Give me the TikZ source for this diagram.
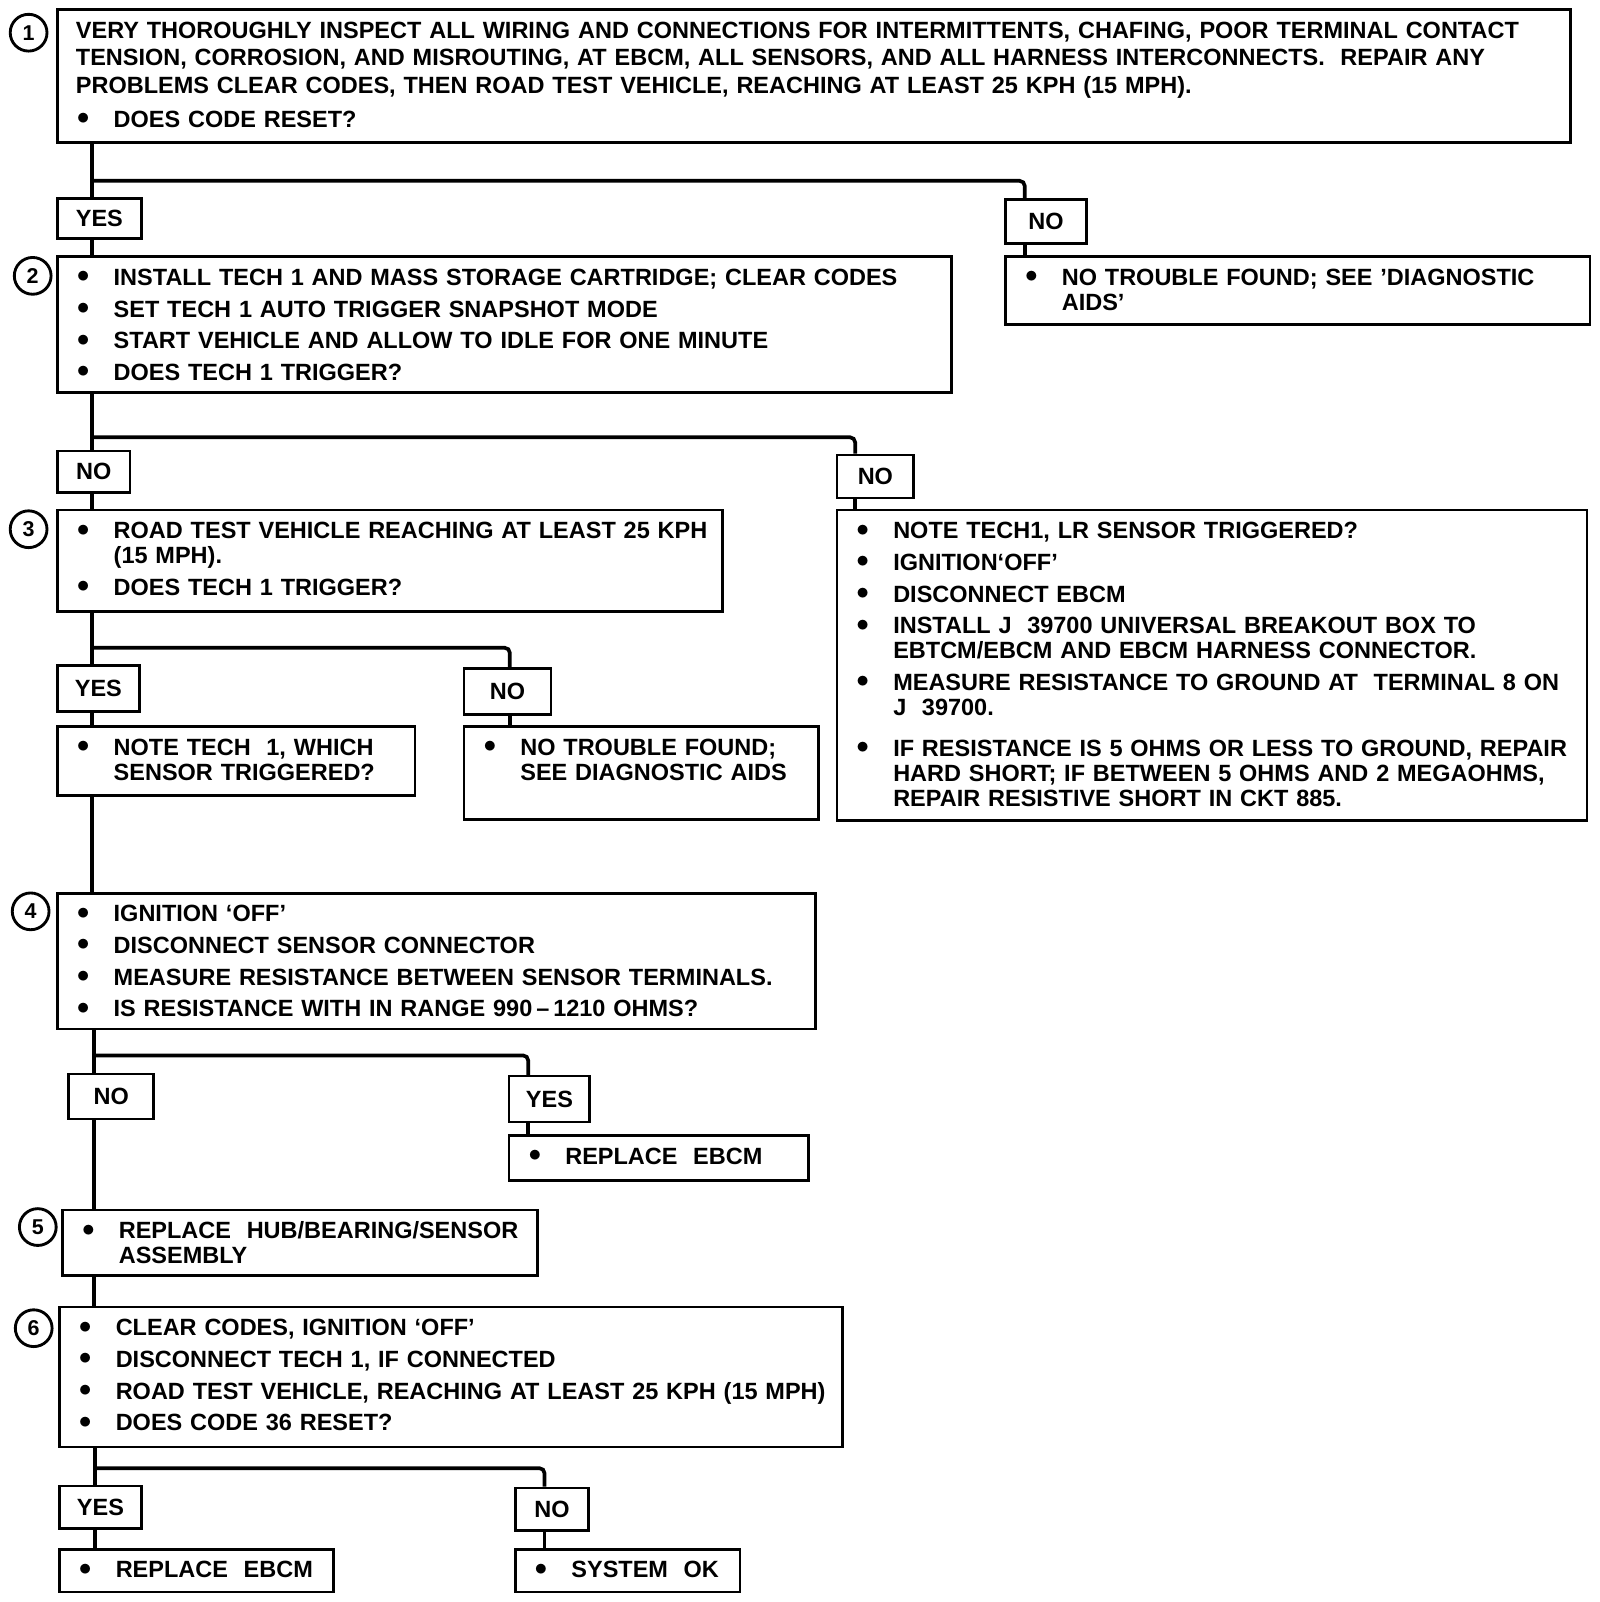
\documentclass[tikz,border=0pt]{standalone}
\usepackage{fontspec}
\setmainfont{Liberation Sans}
\newcommand{\bul}{\hangindent=37pt\hangafter=1\makebox[37pt][l]{\hspace{1pt}\raisebox{2.5pt}{$\bullet$}}}

\begin{document}
\begin{tikzpicture}[x=1pt, y=-1pt, every node/.style={font=\fontsize{23}{24.5}\selectfont\bfseries}]
    % Define styles
    \tikzstyle{stepbox} = [draw, line width=2.6pt, anchor=north west, inner sep=0pt, text height=28pt, align=left, execute at begin node={\leftskip=18pt\parskip=6.5pt}]
    \tikzstyle{answer} = [draw, line width=2.6pt, fill=white, anchor=north west, inner sep=0pt]
    \tikzstyle{stepnum} = [circle, draw, line width=2.8pt, inner sep=0pt, minimum size=36pt, font=\fontsize{21}{21}\selectfont\bfseries]
    \tikzstyle{conn} = [line width=3.6pt, rounded corners=5pt]

    \useasboundingbox (0,0) rectangle (1566,1568);

    % Step numbers
    \node[stepnum] (n1) at (28,32) {1};
    \node[stepnum] (n2) at (32,270) {2};
    \node[stepnum] (n3) at (28,518) {3};
    \node[stepnum] (n4) at (30,892) {4};
    \node[stepnum] (n5) at (37,1201) {5};
    \node[stepnum] (n6) at (33,1300) {6};

    % Step boxes
    \node[stepbox, text width=1481pt, text depth=102pt] (b1) at (55,8) {\baselineskip=27pt VERY THOROUGHLY INSPECT ALL WIRING AND CONNECTIONS FOR INTERMITTENTS, CHAFING, POOR TERMINAL CONTACT\newline TENSION, CORROSION, AND MISROUTING, AT EBCM, ALL SENSORS, AND ALL HARNESS INTERCONNECTS.\ \ REPAIR ANY\newline PROBLEMS CLEAR CODES, THEN ROAD TEST VEHICLE, REACHING AT LEAST 25 KPH (15 MPH).\par
        \bul DOES CODE RESET?\par};
    \node[stepbox, text width=875pt, text depth=105pt] (b2) at (55,250) {\bul INSTALL TECH 1 AND MASS STORAGE CARTRIDGE; CLEAR CODES\par
        \bul SET TECH 1 AUTO TRIGGER SNAPSHOT MODE\par
        \bul START VEHICLE AND ALLOW TO IDLE FOR ONE MINUTE\par
        \bul DOES TECH 1 TRIGGER?\par};
    \node[stepbox, text width=572pt, text depth=38pt] (ntf1) at (983,250) {\bul NO TROUBLE FOUND; SEE 'DIAGNOSTIC\newline AIDS'\par};
    \node[stepbox, text width=651pt, text depth=71pt] (b3) at (55,498) {\bul ROAD TEST VEHICLE REACHING AT LEAST 25 KPH\newline (15 MPH).\par
        \bul DOES TECH 1 TRIGGER?\par};
    \node[stepbox, text width=734pt, text depth=276pt] (chk) at (818,498) {\bul NOTE TECH1, LR SENSOR TRIGGERED?\par
        \bul IGNITION`OFF'\par
        \bul DISCONNECT EBCM\par
        \bul INSTALL J\ \ 39700 UNIVERSAL BREAKOUT BOX TO\newline EBTCM/EBCM AND EBCM HARNESS CONNECTOR.\par
        \bul MEASURE RESISTANCE TO GROUND AT\ \ TERMINAL 8 ON\newline J\ \ 39700.\par
        \vspace{9pt}
        \bul IF RESISTANCE IS 5 OHMS OR LESS TO GROUND, REPAIR\newline HARD SHORT; IF BETWEEN 5 OHMS AND 2 MEGAOHMS,\newline REPAIR RESISTIVE SHORT IN CKT 885.\par};
    \node[stepbox, text width=350pt, text depth=39pt] (note) at (55,710) {\bul NOTE TECH\ \ 1, WHICH\newline SENSOR TRIGGERED?\par};
    \node[stepbox, text width=347pt, text depth=63pt] (ntf2) at (453,710) {\bul NO TROUBLE FOUND;\newline SEE DIAGNOSTIC AIDS\par};
    \node[stepbox, text width=742pt, text depth=105pt] (b4) at (55,873) {\bul IGNITION `OFF'\par
        \bul DISCONNECT SENSOR CONNECTOR\par
        \bul MEASURE RESISTANCE BETWEEN SENSOR TERMINALS.\par
        \bul IS RESISTANCE WITH IN RANGE 990\,--\,1210 OHMS?\par};
    \node[stepbox, text width=293pt, text depth=16pt] (rep1) at (497,1110) {\bul REPLACE\ \ EBCM\par};
    \node[stepbox, text width=465pt, text depth=36pt] (b5) at (60,1183) {\bul REPLACE\ \ HUB/BEARING/SENSOR\newline ASSEMBLY\par};
    \node[stepbox, text width=766pt, text depth=109pt] (b6) at (57,1278) {\bul CLEAR CODES, IGNITION `OFF'\par
        \bul DISCONNECT TECH 1, IF CONNECTED\par
        \bul ROAD TEST VEHICLE, REACHING AT LEAST 25 KPH (15 MPH)\par
        \bul DOES CODE 36 RESET?\par};
    \node[stepbox, text width=268pt, text depth=14pt] (rep2) at (57,1515) {\bul REPLACE\ \ EBCM\par};
    \node[stepbox, text width=220pt, text depth=14pt] (sysok) at (503,1515) {\bul SYSTEM\ \ OK\par};

    % Answer labels
    \node[answer, minimum width=82pt, minimum height=39pt] (yes1) at (55,193) {YES};
    \node[answer, minimum width=79pt, minimum height=43pt] (no1) at (983,194) {NO};
    \node[answer, minimum width=71pt, minimum height=41pt] (no2) at (55,440) {NO};
    \node[answer, minimum width=75pt, minimum height=42pt] (no3) at (818,444) {NO};
    \node[answer, minimum width=80pt, minimum height=45pt] (yes3) at (55,650) {YES};
    \node[answer, minimum width=85pt, minimum height=45pt] (no4) at (453,653) {NO};
    \node[answer, minimum width=83pt, minimum height=44pt] (no5) at (66,1050) {NO};
    \node[answer, minimum width=79pt, minimum height=45pt] (yes5) at (497,1052) {YES};
    \node[answer, minimum width=80pt, minimum height=42pt] (yes6) at (57,1453) {YES};
    \node[answer, minimum width=72pt, minimum height=42pt] (no6) at (503,1455) {NO};

    % Branch points
    \coordinate (s1) at (90,177);
    \coordinate (e1) at (1003,177);
    \coordinate (s2) at (90,428);
    \coordinate (e2) at (837,428);
    \coordinate (s3) at (90,634);
    \coordinate (e3) at (499,634);
    \coordinate (s4) at (92,1033);
    \coordinate (e4) at (517,1033);
    \coordinate (s6) at (93,1437);
    \coordinate (e6) at (533,1437);

    % Step 1 -> 2
    \draw[conn] (b1.south -| s1) -- (yes1.north -| s1);
    \draw[conn] (yes1.south -| s1) -- (b2.north -| s1);
    \draw[conn] (s1) -- (e1) -- (no1.north -| e1);
    \draw[conn] (no1.south -| e1) -- (ntf1.north -| e1);

    % Step 2 -> 3
    \draw[conn] (b2.south -| s2) -- (no2.north -| s2);
    \draw[conn] (no2.south -| s2) -- (b3.north -| s2);
    \draw[conn] (s2) -- (e2) -- (no3.north -| e2);
    \draw[conn] (no3.south -| e2) -- (chk.north -| e2);

    % Step 3 -> 4
    \draw[conn] (b3.south -| s3) -- (yes3.north -| s3);
    \draw[conn] (yes3.south -| s3) -- (note.north -| s3);
    \draw[conn] (s3) -- (e3) -- (no4.north -| e3);
    \draw[conn] (no4.south -| e3) -- (ntf2.north -| e3);
    \draw[conn] (note.south -| s3) -- (b4.north -| s3);

    % Step 4 -> 5 -> 6
    \draw[conn] (b4.south -| s4) -- (no5.north -| s4);
    \draw[conn] (no5.south -| s4) -- (b5.north -| s4);
    \draw[conn] (s4) -- (e4) -- (yes5.north -| e4);
    \draw[conn] (yes5.south -| e4) -- (rep1.north -| e4);
    \draw[conn] (b5.south -| s4) -- (b6.north -| s4);

    % Step 6 results
    \draw[conn] (b6.south -| s6) -- (yes6.north -| s6);
    \draw[conn] (yes6.south -| s6) -- (rep2.north -| s6);
    \draw[conn] (s6) -- (e6) -- (no6.north -| e6);
    \draw[conn] (no6.south -| e6) -- (sysok.north -| e6);
\end{tikzpicture}
\end{document}
